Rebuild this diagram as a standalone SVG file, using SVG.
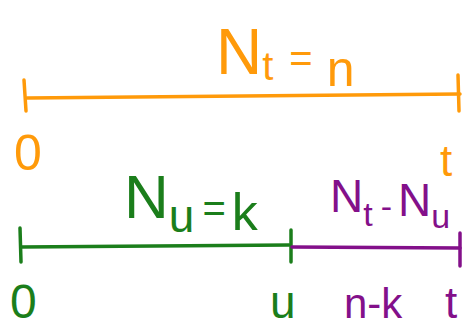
<svg xmlns="http://www.w3.org/2000/svg" width="469" height="331" viewBox="0 0 469 331">
<style>
.ln{fill:none;stroke-width:3.5;stroke-linecap:round;stroke-linejoin:round}
.o{stroke:#FF9A0A}.g{stroke:#1B7E1B}.p{stroke:#83108A}
.t{font-family:"Liberation Sans",Arial,sans-serif;font-weight:normal}
.to{fill:#FF9A0A}.tg{fill:#1B7E1B}.tp{fill:#83108A}
</style>
<rect width="469" height="331" fill="#fff"/>
<g id="connectors">
<path class="ln o" d="M27 98 L460 94"/>
<path class="ln o" d="M24 80 L26 111"/>
<path class="ln o" d="M458 75 L459 111"/>
<path class="ln g" d="M21 247 L289 245"/>
<path class="ln g" d="M20 228 L21 262"/>
<path class="ln g" d="M291 230 L291 262"/>
<path class="ln p" d="M292 247 L460 248"/>
<path class="ln p" d="M460 233 L460 266"/>
</g>
<g id="label-Nt">
<text class="t to" x="216" y="74" font-size="64">N<tspan font-size="40" dy="6">t</tspan><tspan font-size="40" dx="16" dy="-8">=</tspan><tspan font-size="50" dx="14" dy="14">n</tspan></text>
</g>
<g id="orange-0"><text class="t to" x="14" y="170" font-size="50">0</text></g>
<g id="orange-t"><text class="t to" x="440" y="176" font-size="44">t</text></g>
<g id="label-Nu">
<text class="t tg" x="124" y="218" font-size="62">N<tspan font-size="46" dy="14">u</tspan><tspan font-size="40" dx="8" dy="-10">=</tspan><tspan font-size="52" dx="6" dy="8">k</tspan></text>
</g>
<g id="label-NtNu">
<text class="t tp" x="330" y="212" font-size="46">N<tspan font-size="34" dy="14">t</tspan><tspan font-size="34" dx="8" dy="-8">-</tspan><tspan font-size="46" dx="6" dy="-2">N</tspan><tspan font-size="34" dy="12">u</tspan></text>
</g>
<g id="green-0"><text class="t tg" x="10" y="318" font-size="48">0</text></g>
<g id="green-u"><text class="t tg" x="270" y="318" font-size="46">u</text></g>
<g id="purple-nk"><text class="t tp" x="344" y="318" font-size="42">n-k</text></g>
<g id="purple-t"><text class="t tp" x="445" y="318" font-size="44">t</text></g>
</svg>
